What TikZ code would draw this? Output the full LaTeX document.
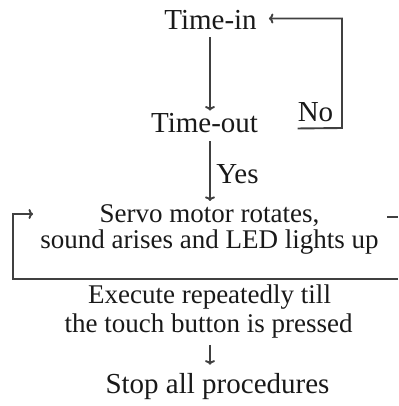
\documentclass[tikz,border=0pt]{standalone}
\usepackage{fontspec}
\setmainfont{Liberation Serif}
\usetikzlibrary{arrows.meta,calc}
\begin{document}
\begin{tikzpicture}[x=1pt,y=-1pt,
  big/.style={font=\fontsize{29}{34}\selectfont, inner sep=0pt, anchor=base, text=black!90},
  mid/.style={font=\fontsize{27}{32}\selectfont, inner sep=0pt, anchor=base, text=black!90},
  conn/.style={line width=1.9pt, draw=black!75},
  arr/.style={conn, -{To[length=4.5pt,width=10pt]}}]
\useasboundingbox (0,0) rectangle (398,406);
% texts
\node[big] (tin)  at (210.5,30) {Time-in};
\node[big] (tout) at (204.5,133) {Time-out};
\node[big] (no)   at (315.5,122) {No};
\node[big] (yes)  at (237.5,183) {Yes};
\node[mid] (s1)   at (209.5,222) {Servo motor rotates,};
\node[mid] (s2)   at (209.5,248) {sound arises and LED lights up};
\node[mid] (e1)   at (209.5,303) {Execute repeatedly till};
\node[mid] (e2)   at (208.5,332) {the touch button is pressed};
\node[big] (stop) at (217.5,393) {Stop all procedures};
% helper coordinates
\coordinate (ax) at (210,0);
\coordinate (c1) at (342,128);
\coordinate (lt) at (33,214);
\coordinate (bl) at (13,279);
\coordinate (br) at (398,279);
\coordinate (rt1) at (387,217);
\coordinate (rt2) at (398,217);
% connectors
\draw[arr] ([yshift=-7pt]tin.south -| ax) -- ([yshift=3pt]tout.north -| ax);
\draw[arr] ([yshift=-6pt]no.south west) -- (c1) |- ([xshift=12pt,yshift=2pt]tin.east);
\draw[arr] ([yshift=-8pt]tout.south -| ax) -- ([yshift=3pt]s1.north -| ax);
\draw[arr] (br) -- (bl) |- (lt);
\draw[conn] (rt1) -- (rt2);
\draw[arr] ([yshift=-7pt]e2.south -| ax) -- ([yshift=8pt]stop.north -| ax);
\end{tikzpicture}
\end{document}
